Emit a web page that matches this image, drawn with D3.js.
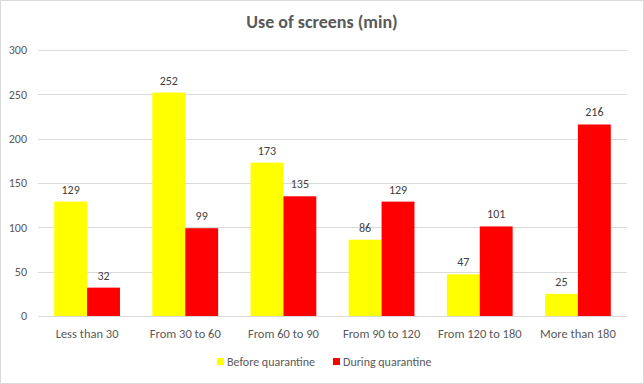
<!DOCTYPE html>
<html>
<head>
<meta charset="utf-8">
<script src="https://cdn.jsdelivr.net/npm/d3@7"></script>
<style>
  body { margin: 0; background: #fff; }
  svg { display: block; font-family: Carlito, Lato, "Liberation Sans", sans-serif; }
</style>
</head>
<body>
<div id="chart"></div>
<script>
// data
const categories = ["Less than 30", "From 30 to 60", "From 60 to 90", "From 90 to 120", "From 120 to 180", "More than 180"];
const seriesNames = ["Before quarantine", "During quarantine"];
const seriesColors = ["#ffff00", "#ff0000"];
const beforeValues = [129, 252, 173, 86, 47, 25];
const duringValues = [32, 99, 135, 129, 101, 216];
const yTicks = [0, 50, 100, 150, 200, 250, 300];

const width = 644, height = 384;
const margin = {top: 50, right: 17, bottom: 68, left: 38};

const svg = d3.select("#chart").append("svg")
    .attr("width", width)
    .attr("height", height);

// chart frame
svg.append("rect")
    .attr("x", 0.5).attr("y", 0.5)
    .attr("width", width - 1).attr("height", height - 1)
    .attr("fill", "#fff")
    .attr("stroke", "#d9d9d9");

svg.append("text")
    .attr("x", width / 2)
    .attr("y", 28)
    .attr("text-anchor", "middle")
    .style("font-size", "18px")
    .style("font-weight", "bold")
    .style("fill", "#595959")
    .text("Use of screens (min)");

const x = d3.scaleBand()
    .domain(categories)
    .range([margin.left, width - margin.right])
    .paddingInner(0.33)
    .paddingOuter(0.165);

const xSub = d3.scaleBand()
    .domain(seriesNames)
    .range([0, x.bandwidth()]);

const y = d3.scaleLinear()
    .domain([0, 300])
    .range([height - margin.bottom, margin.top]);

// gridlines
svg.append("g").selectAll("line")
    .data(yTicks)
    .enter().append("line")
    .attr("x1", margin.left)
    .attr("x2", width - margin.right)
    .attr("y1", d => Math.round(y(d)) + 0.5)
    .attr("y2", d => Math.round(y(d)) + 0.5)
    .attr("stroke", "#d9d9d9")
    .attr("stroke-width", 1);

// y labels
svg.append("g").selectAll("text")
    .data(yTicks)
    .enter().append("text")
    .attr("x", 27)
    .attr("y", d => y(d))
    .attr("dy", "0.35em")
    .attr("text-anchor", "end")
    .style("font-size", "12px")
    .style("fill", "#595959")
    .text(d => d);

const rows = categories.map((c, i) => ({cat: c, vals: [beforeValues[i], duringValues[i]]}));

const groups = svg.append("g").selectAll("g")
    .data(rows)
    .enter().append("g")
    .attr("transform", d => "translate(" + x(d.cat) + ",0)");

const cells = groups.selectAll("g")
    .data(d => d.vals.map((v, j) => ({name: seriesNames[j], value: v, color: seriesColors[j]})))
    .enter();

cells.append("rect")
    .attr("x", d => xSub(d.name))
    .attr("y", d => y(d.value))
    .attr("width", xSub.bandwidth())
    .attr("height", d => y(0) - y(d.value))
    .attr("fill", d => d.color);

cells.append("text")
    .attr("x", d => xSub(d.name) + xSub.bandwidth() / 2)
    .attr("y", d => y(d.value) - 8)
    .attr("text-anchor", "middle")
    .style("font-size", "12px")
    .style("fill", "#404040")
    .text(d => d.value);

// x labels
svg.append("g").selectAll("text")
    .data(categories)
    .enter().append("text")
    .attr("x", d => x(d) + x.bandwidth() / 2)
    .attr("y", 338)
    .attr("text-anchor", "middle")
    .style("font-size", "12.5px")
    .style("fill", "#595959")
    .text(d => d);

// legend
const legendX = [217, 333];
const legend = svg.append("g").selectAll("g")
    .data(seriesNames)
    .enter().append("g")
    .attr("transform", (d, i) => "translate(" + legendX[i] + ",358)");

legend.append("rect")
    .attr("width", 7).attr("height", 7)
    .attr("fill", (d, i) => seriesColors[i]);

legend.append("text")
    .attr("x", 10)
    .attr("y", 3.5)
    .attr("dy", "0.35em")
    .style("font-size", "12px")
    .style("fill", "#595959")
    .text(d => d);
</script>
</body>
</html>
